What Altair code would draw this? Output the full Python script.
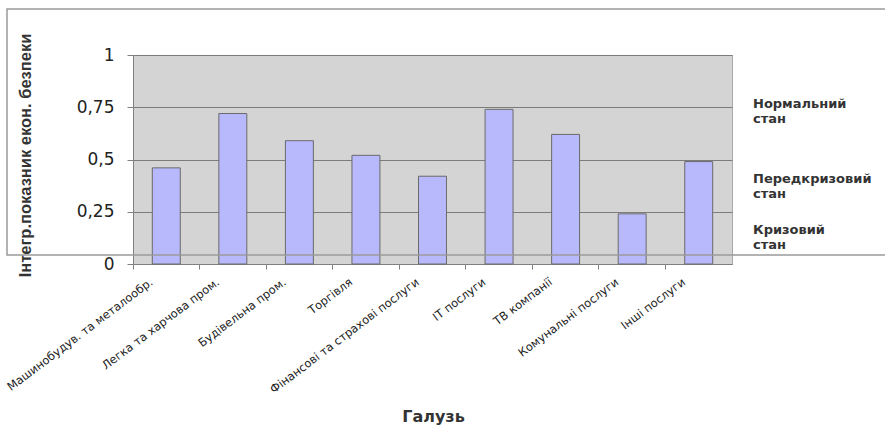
import altair as alt
import pandas as pd

categories = [
    "Машинобудув. та металообр.",
    "Легка та харчова пром.",
    "Будівельна пром.",
    "Торгівля",
    "Фінансові та страхові послуги",
    "IT послуги",
    "ТВ компанії",
    "Комунальні послуги",
    "Інші послуги",
]
values = [0.46, 0.72, 0.59, 0.52, 0.42, 0.74, 0.62, 0.24, 0.49]
y_ticks = [0, 0.25, 0.5, 0.75, 1]
zone_labels = ["Нормальний\nстан", "Передкризовий\nстан", "Кризовий\nстан"]
zone_levels = [0.766, 0.407, 0.165]

df = pd.DataFrame({"cat": categories, "val": values})
zones = pd.DataFrame({"label": zone_labels, "level": zone_levels})
frame_df = pd.DataFrame({"k": [0]})

x_enc = alt.X(
    "cat:N",
    sort=categories,
    scale=alt.Scale(paddingInner=0, paddingOuter=0),
    axis=alt.Axis(
        title="Галузь",
        labelAngle=-37,
        labelFont="DejaVu Sans",
        labelFontSize=11.5,
        labelColor="#222222",
        labelPadding=7,
        labelOffset=-18,
        labelLimit=400,
        labelOverlap=False,
        ticks=True,
        tickSize=5,
        tickColor="#808080",
        bandPosition=0,
        domainColor="#808080",
        grid=False,
        titleFont="DejaVu Sans",
        titleFontSize=16,
        titleFontWeight="bold",
        titleColor="#333333",
        titleX=300,
        titleY=152,
        titleAlign="center",
        titleBaseline="middle",
    ),
)

y_scale = alt.Scale(domain=[0, 1], nice=False)

bars = alt.Chart(df).mark_bar(
    width=alt.RelativeBandSize(0.42),
    color="#b8b9fc",
    stroke="#6a6a6a",
    strokeWidth=1,
).encode(
    x=x_enc,
    y=alt.Y(
        "val:Q",
        scale=y_scale,
        axis=alt.Axis(
            values=y_ticks,
            labelExpr="replace(format(datum.value, '~g'), '.', ',')",
            labelFont="DejaVu Sans",
            labelFontSize=17,
            labelColor="#222222",
            labelPadding=13,
            tickSize=6,
            tickColor="#808080",
            domainColor="#808080",
            grid=True,
            gridColor="#7c7c7c",
            title="Інтегр.показник екон. безпеки",
            titleFont="Liberation Sans",
            titleFontSize=16.5,
            titleFontWeight="bold",
            titleColor="#333333",
            titleAngle=-90,
            titleX=-108,
            titleY=100,
            titleAlign="center",
            titleBaseline="middle",
        ),
    ),
)

zone_text = alt.Chart(zones).mark_text(
    align="left",
    baseline="middle",
    lineBreak="\n",
    font="DejaVu Sans",
    fontSize=13,
    fontWeight="bold",
    color="#333333",
    lineHeight=15,
).encode(
    x=alt.value(620),
    y=alt.Y("level:Q", scale=y_scale),
    text="label:N",
)

frame = alt.Chart(frame_df).mark_rect(
    fill="white",
    fillOpacity=0,
    stroke="#9a9a9a",
    strokeWidth=1.5,
).encode(
    x=alt.value(-126),
    x2=alt.value(780),
    y=alt.value(-46),
    y2=alt.value(200),
)

chart = (
    alt.layer(bars, zone_text, frame)
    .properties(
        width=599,
        height=209,
        autosize=alt.AutoSizeParams(type="none"),
        padding={"left": 133, "top": 55, "right": 153, "bottom": 162},
        background="white",
    )
    .configure_view(fill="#d4d4d4", stroke="#a8a8a8", strokeWidth=1)
)

chart.save("out.html", embed_options={"renderer": "svg", "actions": False})
